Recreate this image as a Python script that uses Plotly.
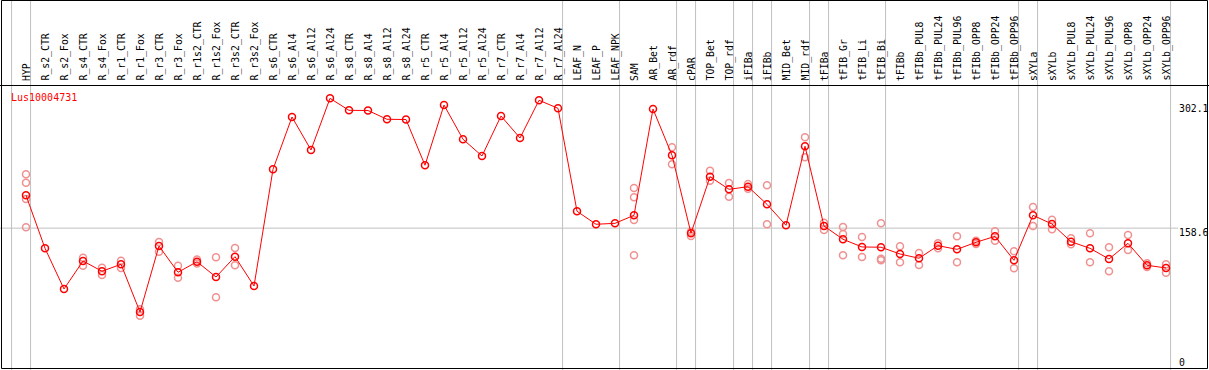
import plotly.graph_objects as go

gene = "Lus10004731"

categories = [
    "HYP", "R_s2_CTR", "R_s2_Fox", "R_s4_CTR", "R_s4_Fox", "R_r1_CTR", "R_r1_Fox",
    "R_r3_CTR", "R_r3_Fox", "R_r1s2_CTR", "R_r1s2_Fox", "R_r3s2_CTR", "R_r3s2_Fox",
    "R_s6_CTR", "R_s6_Al4", "R_s6_Al12", "R_s6_Al24", "R_s8_CTR", "R_s8_Al4",
    "R_s8_Al12", "R_s8_Al24", "R_r5_CTR", "R_r5_Al4", "R_r5_Al12", "R_r5_Al24",
    "R_r7_CTR", "R_r7_Al4", "R_r7_Al12", "R_r7_Al24", "LEAF_N", "LEAF_P", "LEAF_NPK",
    "SAM", "AR_Bet", "AR_rdf", "cPAR", "TOP_Bet", "TOP_rdf", "iFIBa", "iFIBb",
    "MID_Bet", "MID_rdf", "tFIBa", "tFIB_Gr", "tFIB_Li", "tFIB_Bi", "tFIBb",
    "tFIBb_PUL8", "tFIBb_PUL24", "tFIBb_PUL96", "tFIBb_OPP8", "tFIBb_OPP24",
    "tFIBb_OPP96", "sXYLa", "sXYLb", "sXYLb_PUL8", "sXYLb_PUL24", "sXYLb_PUL96",
    "sXYLb_OPP8", "sXYLb_OPP24", "sXYLb_OPP96",
]

mean_values = [
    197.5, 134.7, 86.5, 119.7, 107.5, 115.8, 59.2, 137.4, 106.3, 118.8, 100.7, 124.8, 90.0,
    228.3, 290.3, 251.2, 312.4, 298.2, 298.0, 287.6, 287.3, 233.1, 304.5, 263.9, 244.1,
    291.5, 265.4, 310.1, 300.6, 178.6, 163.2, 164.3,
    173.8, 299.8, 244.9, 152.5, 219.5, 204.6, 207.7, 186.8,
    162.0, 255.6, 161.1, 145.4, 136.3, 136.0, 128.0,
    122.9, 137.8, 133.5, 141.8, 148.9, 120.5,
    173.8, 163.5, 142.5, 134.7, 122.0, 140.6, 114.6, 111.4,
]

replicates = {
    "HYP": [222.4, 212.4, 193.1, 159.6],
    "R_s4_CTR": [123.6, 114.1],
    "R_s4_Fox": [111.7, 103.1],
    "R_r1_CTR": [120.0, 111.4],
    "R_r1_Fox": [62.4, 54.9],
    "R_r3_CTR": [142.2, 130.7],
    "R_r3_Fox": [114.1, 99.9],
    "R_r1s2_CTR": [121.4, 116.7],
    "R_r1s2_Fox": [124.1, 76.7],
    "R_r3s2_CTR": [135.1, 114.6],
    "SAM": [206.2, 195.1, 168.2, 126.4],
    "AR_rdf": [254.4, 234.2],
    "cPAR": [154.4, 149.3],
    "TOP_Bet": [226.7, 214.8],
    "TOP_rdf": [212.1, 195.9],
    "iFIBa": [210.9, 205.3],
    "iFIBb": [209.4, 163.2],
    "MID_rdf": [266.2, 242.5],
    "tFIBa": [165.0, 156.4],
    "tFIB_Gr": [160.0, 151.7, 126.4],
    "tFIB_Li": [148.1, 124.4],
    "tFIB_Bi": [164.3, 122.4, 120.5],
    "tFIBb": [137.1, 118.1],
    "tFIBb_PUL8": [129.1, 114.9],
    "tFIBb_PUL24": [140.6, 134.7],
    "tFIBb_PUL96": [148.9, 118.1],
    "tFIBb_OPP8": [143.7, 139.8],
    "tFIBb_OPP24": [154.9, 143.7],
    "tFIBb_OPP96": [131.2, 111.0],
    "sXYLa": [183.6, 161.1],
    "sXYLb": [168.6, 157.2],
    "sXYLb_PUL8": [146.6, 139.5],
    "sXYLb_PUL24": [152.5, 118.1],
    "sXYLb_PUL96": [135.9, 107.5],
    "sXYLb_OPP8": [150.5, 132.7],
    "sXYLb_OPP24": [116.9, 112.6],
    "sXYLb_OPP96": [115.8, 105.8],
}

# last category of each group (vertical separators drawn after them); -1 = before first
group_ends = [-1, 0, 28, 31, 34, 35, 37, 38, 39, 41, 42, 45, 52, 53, 60]

tick_values = [302.1, 158.6, 0]
tick_labels = ["302.1", "158.6", "0"]
ref_line_value = 158.6

W, H = 1209, 370
FONT = "DejaVu Sans Mono"

rep_x, rep_y = [], []
for c, vals in replicates.items():
    for v in vals:
        rep_x.append(categories.index(c))
        rep_y.append(v)

idx = list(range(len(categories)))

fig = go.Figure()
fig.add_trace(go.Scatter(
    x=rep_x, y=rep_y, mode="markers",
    marker=dict(symbol="circle-open", size=7, color="#f09090", line=dict(width=1.5, color="#f09090")),
    hoverinfo="skip", showlegend=False,
))
fig.add_trace(go.Scatter(
    x=idx, y=mean_values, mode="lines+markers",
    line=dict(color="#ff0000", width=1),
    marker=dict(symbol="circle-open", size=7, color="#ff0000", line=dict(width=1.5, color="#ff0000")),
    hoverinfo="skip", showlegend=False,
))

px_per_cat = 19.0
x0_px = 26.0
xr = [(0 - x0_px) / px_per_cat, (W - x0_px) / px_per_cat]
k = 0.844
zero_px = 362.0
yr = [(zero_px - H) / k, zero_px / k]

shapes = []
for e in group_ends:
    shapes.append(dict(type="line", xref="x", yref="paper", x0=e + 0.24, x1=e + 0.24, y0=0, y1=1,
                       line=dict(color="#c0c0c0", width=1), layer="below"))
shapes.append(dict(type="line", xref="paper", yref="y", x0=0, x1=1178 / W, y0=ref_line_value, y1=ref_line_value,
                   line=dict(color="#c0c0c0", width=1), layer="below"))
# header separator
shapes.append(dict(type="line", xref="paper", yref="paper", x0=0, x1=1, y0=(H - 85.5) / H, y1=(H - 85.5) / H,
                   line=dict(color="black", width=1)))
# frame
shapes.append(dict(type="rect", xref="paper", yref="paper", x0=1.5 / W, x1=1207.5 / W,
                   y0=(H - 368.5) / H, y1=(H - 0.5) / H, line=dict(color="black", width=1)))

annotations = []
for i, c in enumerate(categories):
    annotations.append(dict(x=i, y=(H - 83) / H, xref="x", yref="paper", text=c, textangle=-90,
                            showarrow=False, xanchor="center", yanchor="bottom",
                            font=dict(family=FONT, size=9.8, color="black")))
annotations.append(dict(x=9 / W, y=(H - 97.5) / H, xref="paper", yref="paper", text=gene,
                        showarrow=False, xanchor="left", yanchor="middle",
                        font=dict(family=FONT, size=10, color="#ff0000")))
shifts = [-1, -4, 0]
for v, t, s in zip(tick_values, tick_labels, shifts):
    annotations.append(dict(x=1177 / W, y=v, xref="paper", yref="y", text=t, showarrow=False,
                            xanchor="left", yanchor="middle", yshift=s,
                            font=dict(family=FONT, size=9.8, color="black")))

fig.update_layout(
    width=W, height=H, margin=dict(l=0, r=0, t=0, b=0),
    paper_bgcolor="white", plot_bgcolor="white",
    xaxis=dict(range=xr, visible=False, fixedrange=True),
    yaxis=dict(range=yr, visible=False, fixedrange=True),
    shapes=shapes, annotations=annotations,
)
fig.write_html(
    "out.html",
    config={"displayModeBar": False},
    post_script="document.body.style.margin='0';document.body.style.overflow='hidden';",
)
